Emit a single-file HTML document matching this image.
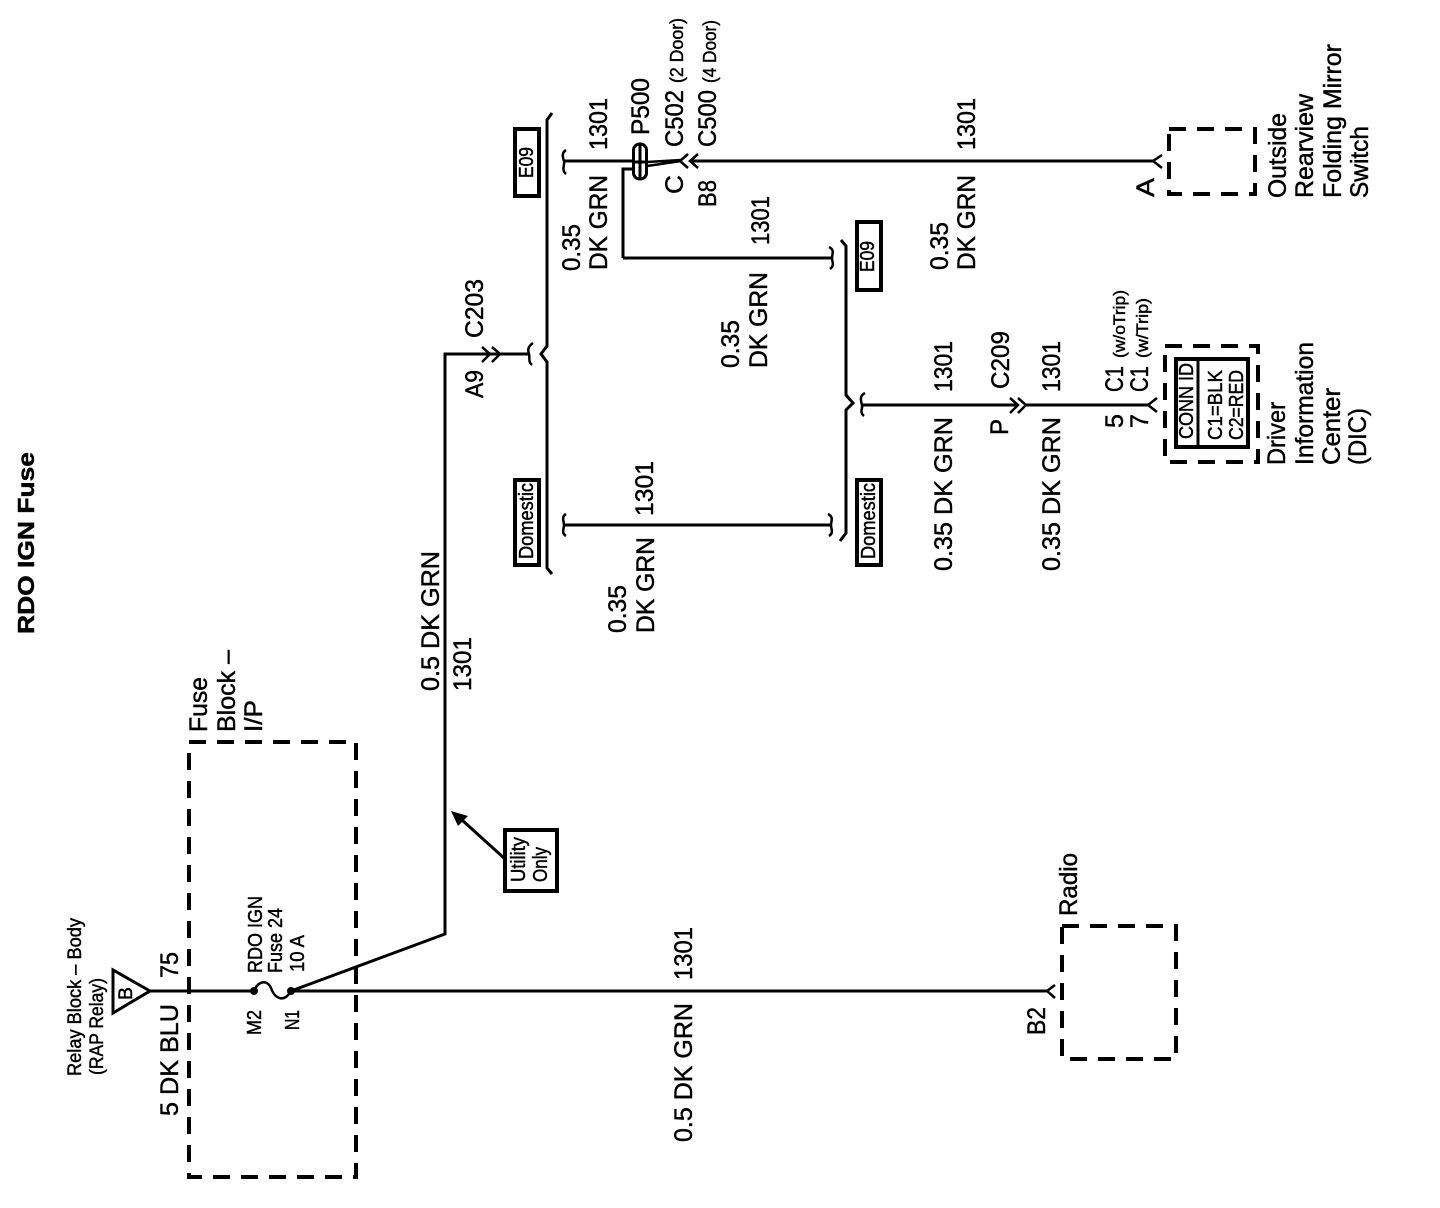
<!DOCTYPE html>
<html><head><meta charset="utf-8"><style>
html,body{margin:0;padding:0;background:#fff}
svg{display:block}
text{font-family:"Liberation Sans",sans-serif;fill:#000;stroke:#000;stroke-width:.45px}
.l{font-size:25px}.m{font-size:20px}.s{font-size:19px}.x{font-size:18px}.y{font-size:17px}
.w{fill:none;stroke:#000;stroke-width:3}
.t{fill:none;stroke:#000;stroke-width:2.5}
.d{fill:none;stroke:#000;stroke-width:4;stroke-dasharray:17 11}
.b{fill:#fff;stroke:#000;stroke-width:4}
</style></head><body>
<svg width="1440" height="1208" viewBox="0 0 1440 1208" xmlns="http://www.w3.org/2000/svg">
<rect width="1440" height="1208" fill="#fff"/>
<!-- dashed boxes -->
<rect class="d" x="189" y="742" width="167" height="435"/>
<rect class="d" x="1062" y="926" width="114" height="133"/>
<rect class="d" x="1169" y="129" width="86" height="65"/>
<rect class="d" x="1165" y="346" width="93" height="116"/>
<!-- wires -->
<polygon points="113,970 113,1013 150,991" fill="#fff" stroke="#000" stroke-width="3"/>
<path class="w" d="M150 991H254"/>
<path class="t" d="M254 991C258 981 267 979 271 988C275 999 284 1003 291 991"/>
<circle cx="254" cy="991" r="4"/><circle cx="291" cy="991" r="4"/>
<path class="w" d="M291 991H1048"/>
<path class="w" d="M291 991L445 934V354H498"/>
<path class="w" d="M498 354H529"/>
<path class="t" d="M482 347L490 354L482 362M492 347L500 354L492 362"/>
<path class="t" d="M533 343C527 347 528 351 529 354C530 358 528 362 532 365"/>
<path class="w" d="M552 113L547 120V346L541 354L547 362V568L552 574"/>
<path class="w" d="M563 161H634"/>
<path class="t" d="M566 150C561 153 563 158 564 161C565 165 561 170 566 174"/>
<path class="w" d="M623 258V169H634M623 258H832"/>
<path class="t" d="M829 247C835 250 832 254 832 258C832 262 835 265 830 269"/>
<path class="w" d="M841 240L846 246V395L853 403L846 410V533L840 541"/>
<path class="w" d="M862 405H1017"/>
<path class="t" d="M865 393C859 396 861 401 862 405C863 409 859 412 864 416"/>
<path class="t" d="M1010 398L1018 405L1010 413M1018 398L1026 405L1018 413"/>
<path class="w" d="M1026 405H1148"/>
<path class="t" d="M1157 398L1148 405L1157 412"/>
<path class="w" d="M564 525H830"/>
<path class="t" d="M566 514C561 517 564 521 564 525C564 529 561 533 566 536"/>
<path class="t" d="M828 514C834 517 831 521 831 525C831 529 834 533 829 536"/>
<!-- P500 -->
<rect x="633.5" y="144" width="13" height="35" rx="6" fill="#fff" stroke="#000" stroke-width="3"/>
<path d="M640 143V180" fill="none" stroke="#000" stroke-width="3"/>
<path class="w" d="M634 162H646"/>
<path class="t" d="M647 162L681 160M647 166L681 161"/>
<path class="t" d="M688 154L680 161L688 168M698 154L690 161L698 168"/>
<path class="w" d="M690 161H1153"/>
<path class="t" d="M1162 155L1153 161L1162 168"/>
<path class="t" d="M1055 985L1047 991L1055 998"/>
<!-- utility arrow -->
<path class="w" d="M504 858L462 820"/>
<polygon points="451,811 468,816 458,826"/>
<!-- boxes -->
<rect class="b" x="505" y="830" width="52" height="61"/>
<rect class="b" x="515" y="129" width="24" height="67"/>
<rect class="b" x="515" y="480" width="24" height="85"/>
<rect class="b" x="857" y="222" width="24" height="68"/>
<rect class="b" x="857" y="480" width="24" height="85"/>
<rect class="b" x="1176" y="359" width="72" height="88"/>
<path class="w" d="M1198 359V447"/>
<!-- labels -->
<g>
<text transform="translate(34,634) rotate(-90)" font-size="23" font-weight="bold" textLength="182" lengthAdjust="spacingAndGlyphs">RDO IGN Fuse</text>
<text class="s" transform="translate(81,1076) rotate(-90)" textLength="158" lengthAdjust="spacingAndGlyphs">Relay Block – Body</text>
<text class="s" transform="translate(103,1075) rotate(-90)" textLength="97" lengthAdjust="spacingAndGlyphs">(RAP Relay)</text>
<text class="s" transform="translate(132,1000) rotate(-90)" textLength="13" lengthAdjust="spacingAndGlyphs">B</text>
<text class="l" transform="translate(178,978) rotate(-90)" textLength="26" lengthAdjust="spacingAndGlyphs">75</text>
<text class="l" transform="translate(178,1116) rotate(-90)" textLength="112" lengthAdjust="spacingAndGlyphs">5 DK BLU</text>
<text class="l" transform="translate(207,732) rotate(-90)" textLength="55" lengthAdjust="spacingAndGlyphs">Fuse</text>
<text class="l" transform="translate(235,732) rotate(-90)" textLength="82" lengthAdjust="spacingAndGlyphs">Block –</text>
<text class="l" transform="translate(262,732) rotate(-90)" textLength="32" lengthAdjust="spacingAndGlyphs">I/P</text>
<text class="m" transform="translate(262,973) rotate(-90)" textLength="77" lengthAdjust="spacingAndGlyphs">RDO IGN</text>
<text class="m" transform="translate(282,973) rotate(-90)" textLength="65" lengthAdjust="spacingAndGlyphs">Fuse 24</text>
<text class="m" transform="translate(304,972) rotate(-90)" textLength="37" lengthAdjust="spacingAndGlyphs">10 A</text>
<text class="m" transform="translate(261,1035) rotate(-90)" textLength="25" lengthAdjust="spacingAndGlyphs">M2</text>
<text class="m" transform="translate(299,1030) rotate(-90)" textLength="20" lengthAdjust="spacingAndGlyphs">N1</text>
<text class="l" transform="translate(439,691) rotate(-90)" textLength="140" lengthAdjust="spacingAndGlyphs">0.5 DK GRN</text>
<text class="l" transform="translate(471,691) rotate(-90)" textLength="54" lengthAdjust="spacingAndGlyphs">1301</text>
<text class="l" transform="translate(483,338) rotate(-90)" textLength="59" lengthAdjust="spacingAndGlyphs">C203</text>
<text class="l" transform="translate(483,398) rotate(-90)" textLength="28" lengthAdjust="spacingAndGlyphs">A9</text>
<text class="m" transform="translate(525,882) rotate(-90)" textLength="45" lengthAdjust="spacingAndGlyphs">Utility</text>
<text class="m" transform="translate(547,882) rotate(-90)" textLength="35" lengthAdjust="spacingAndGlyphs">Only</text>
<text class="m" transform="translate(533,178) rotate(-90)" textLength="31" lengthAdjust="spacingAndGlyphs">E09</text>
<text class="m" transform="translate(533,559) rotate(-90)" textLength="76" lengthAdjust="spacingAndGlyphs">Domestic</text>
<text class="m" transform="translate(874,272) rotate(-90)" textLength="31" lengthAdjust="spacingAndGlyphs">E09</text>
<text class="m" transform="translate(875,559) rotate(-90)" textLength="76" lengthAdjust="spacingAndGlyphs">Domestic</text>
<text class="l" transform="translate(607,150) rotate(-90)" textLength="52" lengthAdjust="spacingAndGlyphs">1301</text>
<text class="l" transform="translate(580,271) rotate(-90)" textLength="47" lengthAdjust="spacingAndGlyphs">0.35</text>
<text class="l" transform="translate(607,270) rotate(-90)" textLength="95" lengthAdjust="spacingAndGlyphs">DK GRN</text>
<text class="l" transform="translate(649,135) rotate(-90)" textLength="57" lengthAdjust="spacingAndGlyphs">P500</text>
<text class="l" transform="translate(683,147) rotate(-90)" textLength="57" lengthAdjust="spacingAndGlyphs">C502</text>
<text class="x" transform="translate(683,83) rotate(-90)" textLength="65" lengthAdjust="spacingAndGlyphs">(2 Door)</text>
<text class="l" transform="translate(716,147) rotate(-90)" textLength="57" lengthAdjust="spacingAndGlyphs">C500</text>
<text class="x" transform="translate(716,83) rotate(-90)" textLength="63" lengthAdjust="spacingAndGlyphs">(4 Door)</text>
<text class="l" transform="translate(683,194) rotate(-90)" textLength="19" lengthAdjust="spacingAndGlyphs">C</text>
<text class="l" transform="translate(716,207) rotate(-90)" textLength="27" lengthAdjust="spacingAndGlyphs">B8</text>
<text class="l" transform="translate(769,245) rotate(-90)" textLength="49" lengthAdjust="spacingAndGlyphs">1301</text>
<text class="l" transform="translate(739,368) rotate(-90)" textLength="48" lengthAdjust="spacingAndGlyphs">0.35</text>
<text class="l" transform="translate(767,368) rotate(-90)" textLength="96" lengthAdjust="spacingAndGlyphs">DK GRN</text>
<text class="l" transform="translate(653,516) rotate(-90)" textLength="55" lengthAdjust="spacingAndGlyphs">1301</text>
<text class="l" transform="translate(626,633) rotate(-90)" textLength="48" lengthAdjust="spacingAndGlyphs">0.35</text>
<text class="l" transform="translate(654,633) rotate(-90)" textLength="96" lengthAdjust="spacingAndGlyphs">DK GRN</text>
<text class="l" transform="translate(948,270) rotate(-90)" textLength="48" lengthAdjust="spacingAndGlyphs">0.35</text>
<text class="l" transform="translate(975,270) rotate(-90)" textLength="95" lengthAdjust="spacingAndGlyphs">DK GRN</text>
<text class="l" transform="translate(975,150) rotate(-90)" textLength="52" lengthAdjust="spacingAndGlyphs">1301</text>
<text class="l" transform="translate(1154,197) rotate(-90)" textLength="19" lengthAdjust="spacingAndGlyphs">A</text>
<text class="l" transform="translate(1286,198) rotate(-90)" textLength="85" lengthAdjust="spacingAndGlyphs">Outside</text>
<text class="l" transform="translate(1313,198) rotate(-90)" textLength="104" lengthAdjust="spacingAndGlyphs">Rearview</text>
<text class="l" transform="translate(1341,198) rotate(-90)" textLength="154" lengthAdjust="spacingAndGlyphs">Folding Mirror</text>
<text class="l" transform="translate(1368,198) rotate(-90)" textLength="72" lengthAdjust="spacingAndGlyphs">Switch</text>
<text class="l" transform="translate(952,392) rotate(-90)" textLength="51" lengthAdjust="spacingAndGlyphs">1301</text>
<text class="l" transform="translate(952,571) rotate(-90)" textLength="154" lengthAdjust="spacingAndGlyphs">0.35 DK GRN</text>
<text class="l" transform="translate(1009,389) rotate(-90)" textLength="58" lengthAdjust="spacingAndGlyphs">C209</text>
<text class="l" transform="translate(1008,435) rotate(-90)" textLength="16" lengthAdjust="spacingAndGlyphs">P</text>
<text class="l" transform="translate(1060,392) rotate(-90)" textLength="51" lengthAdjust="spacingAndGlyphs">1301</text>
<text class="l" transform="translate(1060,571) rotate(-90)" textLength="154" lengthAdjust="spacingAndGlyphs">0.35 DK GRN</text>
<text class="l" transform="translate(1123,392) rotate(-90)" textLength="26" lengthAdjust="spacingAndGlyphs">C1</text>
<text class="y" transform="translate(1125,358) rotate(-90)" textLength="68" lengthAdjust="spacingAndGlyphs">(w/oTrip)</text>
<text class="l" transform="translate(1148,392) rotate(-90)" textLength="26" lengthAdjust="spacingAndGlyphs">C1</text>
<text class="y" transform="translate(1148,358) rotate(-90)" textLength="60" lengthAdjust="spacingAndGlyphs">(w/Trip)</text>
<text class="l" transform="translate(1123,428) rotate(-90)">5</text>
<text class="l" transform="translate(1148,428) rotate(-90)">7</text>
<text class="m" transform="translate(1193,439) rotate(-90)" textLength="76" lengthAdjust="spacingAndGlyphs">CONN ID</text>
<text class="m" transform="translate(1222,440) rotate(-90)" textLength="70" lengthAdjust="spacingAndGlyphs">C1=BLK</text>
<text class="m" transform="translate(1243,440) rotate(-90)" textLength="70" lengthAdjust="spacingAndGlyphs">C2=RED</text>
<text class="l" transform="translate(1285,465) rotate(-90)" textLength="63" lengthAdjust="spacingAndGlyphs">Driver</text>
<text class="l" transform="translate(1313,465) rotate(-90)" textLength="123" lengthAdjust="spacingAndGlyphs">Information</text>
<text class="l" transform="translate(1340,465) rotate(-90)" textLength="77" lengthAdjust="spacingAndGlyphs">Center</text>
<text class="l" transform="translate(1366,465) rotate(-90)" textLength="57" lengthAdjust="spacingAndGlyphs">(DIC)</text>
<text class="l" transform="translate(1077,916) rotate(-90)" textLength="63" lengthAdjust="spacingAndGlyphs">Radio</text>
<text class="l" transform="translate(1045,1035) rotate(-90)" textLength="28" lengthAdjust="spacingAndGlyphs">B2</text>
<text class="l" transform="translate(692,980) rotate(-90)" textLength="53" lengthAdjust="spacingAndGlyphs">1301</text>
<text class="l" transform="translate(692,1142) rotate(-90)" textLength="139" lengthAdjust="spacingAndGlyphs">0.5 DK GRN</text>
</g>
</svg>
</body></html>
